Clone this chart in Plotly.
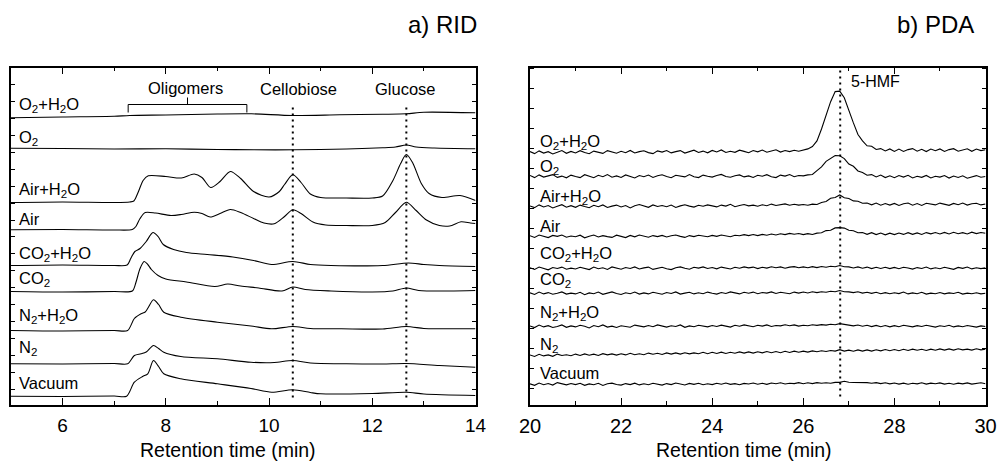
import plotly.graph_objects as go

# ---------------- data ----------------
# a) RID  -- retention time (min) / detector signal (arbitrary units, 0 = bottom of frame)
rid_o2h2o_t = [5, 6, 7, 7.3, 8, 9, 9.66, 10.46, 11.37, 12.2, 12.66, 13.0, 14]
rid_o2h2o_y = [286.7, 287.5, 288.2, 289, 289.5, 290.5, 290.7, 289, 289.7, 290.2, 290.7, 292.3, 291.7]

rid_o2_t = [5, 6, 7, 8, 9, 9.7, 10.5, 11.5, 12.2, 12.45, 12.66, 12.85, 13.2, 14]
rid_o2_y = [256.3, 256, 255.5, 255.7, 255, 254.7, 254.7, 255.5, 256.7, 257.5, 259.5, 257.5, 256.5, 255.7]

rid_airh2o_t = [5, 6, 7, 7.3, 7.38, 7.47, 7.56, 7.66, 8.0, 8.3, 8.55, 8.7, 8.87, 9.05, 9.25, 9.45, 9.7, 10.0,
                10.2, 10.3, 10.46, 10.62, 10.8, 11.0, 11.5, 12.0, 12.2, 12.4, 12.55, 12.66, 12.78, 12.95,
                13.1, 13.35, 13.7, 14]
rid_airh2o_y = [202, 202.5, 202, 202.5, 203.5, 213, 224, 228.7, 228, 226.5, 230.5, 227, 217, 223, 233, 226, 213,
                207.5, 213, 220, 229.7, 222, 210.5, 207, 206.5, 206.5, 208.5, 224, 241, 250, 242, 221, 211,
                207, 209, 204]

rid_air_t = [5, 6, 7, 7.35, 7.42, 7.5, 7.6, 7.8, 8.1, 8.3, 8.55, 8.7, 8.86, 9.05, 9.25, 9.45, 9.7, 9.9, 10.1,
             10.3, 10.46, 10.62, 10.85, 11.1, 11.5, 12.0, 12.25, 12.45, 12.66, 12.85, 13.05, 13.3, 13.5,
             13.72, 13.9, 14]
rid_air_y = [174.7, 175, 174.5, 175, 178, 186, 192, 191.5, 189, 190, 192.3, 191, 187.5, 191, 195, 192, 186,
             181.5, 180.7, 188, 194.7, 191, 182.5, 179.5, 179, 179, 182, 192, 202.3, 194, 184.5, 179, 178.5,
             182.7, 181.5, 181]

rid_co2h2o_t = [5, 6, 7, 7.25, 7.32, 7.4, 7.5, 7.62, 7.75, 7.85, 7.95, 8.15, 8.4, 8.8, 9.3, 9.7, 10.05, 10.46,
                10.8, 11.2, 12.2, 12.7, 13.0, 13.3, 14]
rid_co2h2o_y = [139, 139.5, 139, 139.5, 146, 153, 156, 163, 172, 168, 160, 155, 152, 150, 147.5, 144, 140, 143,
                140, 139, 139, 141.5, 140, 139, 138]

rid_co2_t = [5, 6, 7, 7.35, 7.42, 7.5, 7.58, 7.65, 7.72, 7.85, 8.0, 8.4, 8.95, 9.2, 9.45, 9.8, 10.25, 10.46,
             10.7, 11.2, 12.0, 12.4, 12.66, 12.9, 13.5, 14]
rid_co2_y = [113, 112.5, 113, 113.5, 122, 136, 143, 140, 135, 129, 125.5, 122.5, 118, 120.5, 118.5, 116.5,
             113.5, 117.5, 115, 113.5, 112.5, 113.5, 116.5, 114, 113.5, 114]

rid_n2h2o_t = [5, 6, 7, 7.26, 7.39, 7.52, 7.6, 7.66, 7.76, 7.86, 7.96, 8.29, 9.0, 9.65, 10.05, 10.46, 10.8,
               11.4, 12.2, 12.66, 13.0, 13.3, 14]
rid_n2h2o_y = [74, 73.5, 74, 74, 86, 90.7, 92.5, 97, 104.7, 100, 92.3, 87.3, 82.3, 78.5, 75.7, 78, 76, 75.7,
               75.5, 78, 76, 75.7, 75.7]

rid_n2_t = [5, 6, 7, 7.26, 7.39, 7.52, 7.62, 7.76, 7.86, 7.96, 8.29, 9.0, 9.65, 10.1, 10.46, 10.8, 11.5,
            12.2, 12.66, 13.3, 14]
rid_n2_y = [40.7, 40.5, 41, 40.7, 49, 50.7, 52.5, 59, 56, 52.3, 48, 45.7, 42.3, 42, 44, 41.5, 40.7, 40.5,
            41, 39, 37.3]

rid_vac_t = [5, 6, 7, 7.24, 7.39, 7.55, 7.65, 7.76, 7.86, 7.96, 8.29, 9.0, 9.65, 10.05, 10.46, 10.8, 11.0,
             12.0, 12.66, 13.0, 14]
rid_vac_y = [8.3, 8, 8.5, 8.3, 22.3, 28, 30.7, 44, 38, 30.7, 25.7, 20.7, 16, 12.3, 14.7, 12, 10.7, 11, 12.3,
             10.5, 9]

# b) PDA  -- common time grid (min) and absorbance signal (arbitrary units)
pda_t = [20.0, 20.1, 20.2, 20.3, 20.4, 20.5, 20.6, 20.7, 20.8, 20.9,
         21.0, 21.1, 21.2, 21.3, 21.4, 21.5, 21.6, 21.7, 21.8, 21.9,
         22.0, 22.1, 22.2, 22.3, 22.4, 22.5, 22.6, 22.7, 22.8, 22.9,
         23.0, 23.1, 23.2, 23.3, 23.4, 23.5, 23.6, 23.7, 23.8, 23.9,
         24.0, 24.1, 24.2, 24.3, 24.4, 24.5, 24.6, 24.7, 24.8, 24.9,
         25.0, 25.1, 25.2, 25.3, 25.4, 25.5, 25.6, 25.7, 25.8, 25.9,
         26.0, 26.1, 26.2, 26.3, 26.4, 26.5, 26.6, 26.7, 26.8, 26.9,
         27.0, 27.1, 27.2, 27.3, 27.4, 27.5, 27.6, 27.7, 27.8, 27.9,
         28.0, 28.1, 28.2, 28.3, 28.4, 28.5, 28.6, 28.7, 28.8, 28.9,
         29.0, 29.1, 29.2, 29.3, 29.4, 29.5, 29.6, 29.7, 29.8, 29.9,
         30.0]
pda_o2h2o = [252.9, 250.9, 253.6, 251.4, 252.8, 250.6, 252.2, 254.0, 251.2, 253.1,
             251.5, 253.8, 251.9, 250.8, 253.4, 252.5, 251.1, 253.9, 252.6, 251.3,
             253.2, 251.8, 254.1, 251.5, 252.9, 253.7, 251.9, 250.9, 253.6, 252.4,
             254.0, 251.6, 252.9, 253.9, 251.4, 253.1, 254.3, 252.0, 253.4, 251.7,
             254.1, 252.5, 254.6, 252.0, 253.3, 252.2, 254.3, 253.1, 251.8, 254.0,
             252.7, 254.4, 252.3, 253.5, 254.7, 252.4, 254.0, 252.9, 254.3, 253.2,
             254.1, 255.6, 258.0, 263.6, 275.5, 289.3, 302.8, 312.9, 313.3, 306.7,
             293.5, 281.6, 270.0, 263.6, 258.7, 258.2, 255.0, 255.9, 253.6, 255.6,
             253.1, 255.4, 253.0, 254.9, 255.9, 253.3, 255.2, 252.9, 255.4, 253.8,
             255.6, 253.1, 254.9, 255.8, 253.3, 254.6, 255.7, 253.2, 255.4, 253.9,
             254.8]
pda_o2 = [229.0, 226.9, 229.6, 227.4, 228.6, 229.9, 227.1, 228.4, 226.7, 229.4,
          228.0, 226.9, 229.8, 228.2, 226.8, 229.2, 227.8, 230.0, 227.3, 228.6,
          227.1, 229.6, 228.2, 226.6, 229.0, 227.8, 229.5, 227.0, 228.8, 229.8,
          228.0, 226.8, 229.2, 228.4, 227.6, 230.0, 227.8, 226.9, 229.4, 228.2,
          227.4, 229.0, 230.1, 228.0, 227.2, 228.8, 229.6, 227.6, 228.6, 227.0,
          229.2, 228.2, 229.8, 227.8, 226.9, 229.4, 228.4, 230.0, 227.8, 229.0,
          228.6, 229.6, 230.0, 233.9, 237.6, 243.1, 245.7, 248.9, 248.8, 245.9,
          240.4, 238.2, 233.5, 232.0, 229.3, 229.9, 227.6, 229.5, 226.9, 228.7,
          226.8, 229.0, 227.4, 229.2, 226.6, 228.3, 227.2, 229.1, 226.5, 228.2,
          227.4, 228.9, 226.4, 228.5, 227.0, 228.7, 226.3, 227.9, 228.9, 227.3,
          228.0]
pda_airh2o = [198.6, 196.9, 199.6, 197.5, 199.0, 196.6, 198.2, 199.8, 197.3, 198.8,
              197.2, 199.4, 198.0, 196.8, 199.2, 197.8, 199.6, 197.0, 198.4, 199.4,
              197.5, 199.0, 196.6, 198.8, 200.0, 198.2, 197.2, 199.6, 198.0, 199.0,
              197.8, 199.4, 197.0, 198.6, 199.8, 198.4, 197.4, 199.2, 198.2, 199.6,
              198.6, 197.6, 199.4, 198.4, 200.2, 197.8, 199.0, 200.0, 198.6, 199.4,
              198.2, 199.8, 198.8, 200.4, 199.0, 199.6, 200.6, 199.2, 200.2, 199.4,
              200.0, 199.2, 200.4, 200.0, 202.0, 203.0, 206.2, 207.0, 209.5, 206.8,
              206.0, 203.6, 203.2, 201.2, 201.4, 199.7, 201.5, 199.3, 201.0, 199.4,
              201.1, 199.1, 200.8, 201.5, 199.3, 200.9, 199.0, 201.3, 200.3, 199.6,
              201.4, 200.0, 199.2, 201.1, 199.8, 201.5, 199.4, 200.7, 201.3, 199.6,
              200.5]
pda_air = [168.8, 167.1, 169.5, 167.9, 166.9, 169.1, 168.1, 169.5, 167.3, 168.5,
           167.7, 169.3, 166.7, 168.3, 169.5, 167.5, 168.9, 167.9, 167.1, 169.3,
           168.1, 166.9, 169.1, 167.7, 169.5, 168.3, 167.3, 168.9, 167.9, 169.1,
           167.5, 168.7, 169.5, 168.1, 167.1, 168.9, 167.9, 169.3, 168.3, 167.7,
           169.1, 168.1, 169.5, 168.5, 167.7, 169.3, 168.7, 169.9, 168.9, 170.0,
           168.9, 170.1, 169.3, 170.5, 169.5, 170.7, 169.9, 171.1, 170.3, 171.0,
           169.9, 170.9, 170.0, 171.4, 171.7, 173.9, 174.2, 176.6, 176.9, 176.4,
           174.2, 173.8, 171.7, 172.0, 170.2, 171.8, 169.9, 171.5, 169.7, 171.3,
           169.9, 171.5, 170.1, 171.8, 170.2, 171.6, 170.0, 171.9, 170.6, 172.0,
           170.5, 172.1, 170.6, 172.2, 170.8, 171.9, 170.5, 172.3, 170.9, 172.0,
           171.2]
pda_co2h2o = [136.8, 135.1, 137.5, 135.7, 134.7, 137.0, 136.0, 137.4, 135.3, 136.4,
              135.5, 137.2, 136.2, 134.9, 137.4, 135.8, 136.8, 135.1, 137.6, 136.2,
              135.3, 137.0, 136.0, 137.6, 135.5, 136.6, 137.4, 135.1, 136.4, 137.2,
              135.8, 134.9, 136.8, 137.6, 136.2, 135.3, 137.2, 136.4, 137.6, 136.0,
              137.0, 135.7, 137.4, 136.4, 135.5, 137.2, 136.2, 137.6, 136.6, 137.4,
              135.9, 137.2, 136.4, 137.8, 136.8, 137.6, 136.2, 137.4, 137.9, 136.7,
              137.6, 136.8, 137.9, 136.9, 138.0, 137.3, 138.3, 137.7, 139.0, 137.8,
              137.6, 136.5, 137.6, 136.3, 137.4, 135.9, 137.3, 136.0, 137.3, 135.9,
              137.1, 135.8, 137.3, 136.5, 135.4, 136.9, 136.0, 137.5, 135.6, 136.7,
              135.8, 137.3, 136.3, 135.2, 137.1, 136.1, 137.5, 135.6, 136.7, 135.9,
              136.8]
pda_co2 = [111.7, 110.0, 112.5, 110.6, 111.9, 110.2, 111.2, 112.6, 110.4, 111.4,
           110.6, 112.2, 109.8, 111.6, 110.8, 112.4, 110.2, 111.4, 112.6, 111.0,
           110.0, 111.8, 110.8, 112.4, 110.4, 111.6, 110.6, 112.2, 111.2, 110.2,
           112.0, 111.0, 112.6, 110.4, 111.4, 112.2, 110.6, 111.8, 110.8, 112.4,
           111.2, 110.4, 112.0, 111.0, 112.6, 111.4, 110.6, 112.2, 111.2, 112.4,
           110.8, 112.0, 111.4, 112.6, 111.0, 112.2, 111.6, 110.8, 112.4, 111.4,
           112.5, 111.5, 112.7, 111.9, 112.8, 112.3, 113.2, 112.8, 114.0, 112.8,
           112.6, 111.9, 112.8, 111.4, 112.3, 111.1, 112.2, 110.8, 111.9, 110.8,
           111.8, 110.9, 112.4, 110.6, 111.6, 110.8, 112.2, 110.4, 111.4, 110.8,
           112.0, 110.6, 111.6, 111.0, 112.2, 110.4, 111.4, 110.8, 111.8, 110.6,
           111.2]
pda_n2h2o = [78.5, 76.9, 79.4, 77.6, 78.8, 77.0, 78.0, 79.6, 77.2, 78.6,
             77.6, 79.2, 78.2, 76.6, 79.0, 77.8, 79.6, 77.4, 78.4, 77.0,
             78.8, 78.0, 77.2, 79.4, 78.2, 77.6, 79.0, 77.8, 79.6, 78.4,
             77.4, 78.8, 78.0, 79.6, 77.2, 78.6, 77.8, 79.2, 78.2, 77.6,
             79.0, 78.0, 79.4, 78.4, 77.4, 79.2, 78.2, 79.6, 78.6, 77.8,
             79.2, 78.4, 79.6, 78.0, 79.0, 78.6, 79.8, 78.8, 79.6, 78.4,
             79.3, 78.7, 79.7, 79.1, 79.9, 79.4, 80.2, 79.8, 80.9, 79.9,
             79.6, 78.6, 79.5, 78.2, 79.2, 77.9, 79.1, 77.8, 79.0, 77.6,
             78.9, 77.8, 79.3, 78.4, 77.6, 78.9, 78.0, 79.2, 78.2, 77.4,
             78.8, 78.0, 79.2, 77.6, 78.6, 77.8, 79.0, 78.2, 77.4, 78.6,
             78.0]
pda_n2 = [49.6, 48.0, 50.2, 48.6, 49.6, 48.2, 50.4, 49.0, 49.8, 48.8,
          50.4, 49.0, 50.6, 49.2, 50.4, 49.0, 50.8, 49.6, 50.6, 49.4,
          50.8, 49.6, 51.2, 49.8, 50.8, 49.8, 51.4, 50.2, 51.2, 50.0,
          51.6, 50.4, 51.6, 50.4, 51.8, 50.6, 51.6, 50.8, 52.2, 50.8,
          52.2, 51.0, 52.4, 51.0, 52.2, 51.2, 52.6, 51.4, 52.6, 51.4,
          52.8, 51.6, 53.0, 51.8, 53.0, 51.8, 53.2, 52.0, 53.4, 52.2,
          53.4, 52.4, 53.6, 52.8, 53.8, 53.0, 54.0, 53.4, 54.8, 53.4,
          54.4, 53.2, 54.6, 53.4, 54.6, 53.4, 54.8, 53.6, 55.0, 53.8,
          55.0, 53.8, 55.2, 54.0, 55.4, 54.2, 55.2, 54.0, 55.4, 54.2,
          55.6, 54.4, 55.6, 54.4, 55.8, 54.6, 55.4, 54.4, 55.8, 54.6,
          55.3]
pda_vac = [20.6, 19.2, 21.4, 19.8, 21.0, 19.4, 21.9, 20.6, 19.6, 21.0,
           19.9, 21.2, 19.2, 20.6, 19.8, 21.2, 19.0, 20.8, 21.4, 20.0,
           19.4, 20.9, 19.9, 21.3, 19.6, 20.8, 19.8, 21.2, 20.4, 19.4,
           20.9, 19.9, 21.5, 20.3, 19.5, 21.1, 20.1, 21.3, 19.7, 20.7,
           19.9, 21.3, 20.3, 21.5, 20.1, 20.9, 19.7, 21.1, 20.5, 21.5,
           20.3, 21.3, 20.1, 21.5, 20.7, 21.7, 20.5, 21.3, 20.9, 21.9,
           20.7, 21.7, 20.9, 21.9, 21.2, 21.8, 21.3, 22.1, 22.1, 23.2,
           22.2, 22.0, 22.1, 21.7, 21.9, 21.3, 21.9, 20.9, 21.7, 20.6,
           21.5, 20.4, 21.4, 20.3, 21.2, 20.6, 21.8, 20.4, 21.4, 20.8,
           21.6, 20.4, 21.3, 20.2, 21.4, 20.6, 21.6, 20.4, 21.0, 21.7,
           20.8]

series_labels = ["O<sub>2</sub>+H<sub>2</sub>O", "O<sub>2</sub>", "Air+H<sub>2</sub>O", "Air",
                 "CO<sub>2</sub>+H<sub>2</sub>O", "CO<sub>2</sub>", "N<sub>2</sub>+H<sub>2</sub>O",
                 "N<sub>2</sub>", "Vacuum"]
rid_series = [(rid_o2h2o_t, rid_o2h2o_y), (rid_o2_t, rid_o2_y), (rid_airh2o_t, rid_airh2o_y),
              (rid_air_t, rid_air_y), (rid_co2h2o_t, rid_co2h2o_y), (rid_co2_t, rid_co2_y),
              (rid_n2h2o_t, rid_n2h2o_y), (rid_n2_t, rid_n2_y), (rid_vac_t, rid_vac_y)]
pda_series = [pda_o2h2o, pda_o2, pda_airh2o, pda_air, pda_co2h2o, pda_co2, pda_n2h2o, pda_n2, pda_vac]

# marker positions (min)
cellobiose_t = 10.46
glucose_t = 12.66
hmf_t = 26.81
oligomer_range = [7.27, 9.57]

# ---------------- layout helpers ----------------
W, H = 1000, 462
FONT = "Liberation Sans, Arial, Helvetica, sans-serif"

def px(x):
    return x / W

def py(y):
    return 1 - y / H

# label vertical positions in pixels (cap-centre) for each panel
rid_label_px = [105, 138, 189.5, 219.5, 253.5, 279, 316, 348, 382.5]
pda_label_px = [142, 167, 197, 226, 253.5, 280, 313, 345, 372.5]

fig = go.Figure()

for (t, y) in rid_series:
    fig.add_trace(go.Scatter(x=t, y=y, mode="lines", xaxis="x", yaxis="y",
                             line=dict(color="black", width=1.1, shape="spline", smoothing=0.8),
                             showlegend=False, hoverinfo="skip"))
for y in pda_series:
    fig.add_trace(go.Scatter(x=pda_t, y=y, mode="lines", xaxis="x2", yaxis="y2",
                             line=dict(color="black", width=1.1),
                             showlegend=False, hoverinfo="skip"))

dot = "2px,4px"
shapes = [
    dict(type="line", xref="x", yref="y", x0=cellobiose_t, x1=cellobiose_t, y0=7, y1=301,
         line=dict(color="black", width=2, dash=dot)),
    dict(type="line", xref="x", yref="y", x0=glucose_t, x1=glucose_t, y0=7, y1=301,
         line=dict(color="black", width=2, dash=dot)),
    dict(type="line", xref="x2", yref="y2", x0=hmf_t, x1=hmf_t, y0=8, y1=337,
         line=dict(color="black", width=2, dash=dot)),
    # oligomers bracket
    dict(type="line", xref="x", yref="y", x0=oligomer_range[0], x1=oligomer_range[1], y0=300, y1=300,
         line=dict(color="black", width=1)),
    dict(type="line", xref="x", yref="y", x0=oligomer_range[0], x1=oligomer_range[0], y0=300, y1=292,
         line=dict(color="black", width=1)),
    dict(type="line", xref="x", yref="y", x0=oligomer_range[1], x1=oligomer_range[1], y0=300, y1=292,
         line=dict(color="black", width=1)),
    dict(type="line", xref="x", yref="y", x0=sum(oligomer_range) / 2, x1=sum(oligomer_range) / 2,
         y0=300, y1=307, line=dict(color="black", width=1)),
]

ann = []
def text(x, y, s, size, xanchor="center", yanchor="middle"):
    ann.append(dict(x=px(x), y=py(y), xref="paper", yref="paper", text=s, showarrow=False,
                    xanchor=xanchor, yanchor=yanchor, font=dict(family=FONT, size=size, color="black")))

for lab, yy in zip(series_labels, rid_label_px):
    text(17, yy, lab, 16.5, xanchor="left")
for lab, yy in zip(series_labels, pda_label_px):
    text(538, yy, lab, 16.5, xanchor="left")

text(185, 88, "Oligomers", 16.5)
text(298, 89, "Cellobiose", 16.5)
text(405, 89, "Glucose", 16.5)
text(875, 81, "5-HMF", 16)
text(442, 24, "a) RID", 24)
text(935, 24, "b) PDA", 24)
text(228, 450, "Retention time (min)", 19.5)
text(744, 450, "Retention time (min)", 19.5)

axis_common = dict(showline=True, linecolor="black", linewidth=1.5, mirror="ticks", ticks="inside",
                   showgrid=False, zeroline=False, tickcolor="black", automargin=False)

y_dom = [py(404.5), py(67.5)]
fig.update_layout(
    width=W, height=H, margin=dict(l=0, r=0, t=0, b=0, pad=0), autosize=False,
    paper_bgcolor="white", plot_bgcolor="white",
    font=dict(family=FONT, color="black"),
    xaxis=dict(domain=[px(11), px(475.5)], range=[5, 14], dtick=2, tick0=0, ticklen=7, tickwidth=1.2,
               minor=dict(ticks="inside", ticklen=4, dtick=1, tick0=0, tickcolor="black", tickwidth=1.2),
               tickfont=dict(size=19), ticklabelstandoff=3, anchor="y", **axis_common),
    yaxis=dict(domain=y_dom, range=[0, 337], tick0=15.5, dtick=16.9, ticklen=4, tickwidth=1,
               showticklabels=False, anchor="x", **axis_common),
    xaxis2=dict(domain=[px(530), px(985.5)], range=[20, 30], dtick=2, tick0=0, ticklen=7, tickwidth=1.2,
                minor=dict(ticks="inside", ticklen=4, dtick=1, tick0=0, tickcolor="black", tickwidth=1.2),
                tickfont=dict(size=20), ticklabelstandoff=3, anchor="y2", **axis_common),
    yaxis2=dict(domain=y_dom, range=[0, 337], tick0=15.7, dtick=20, ticklen=4, tickwidth=1,
                showticklabels=False, anchor="x2", **axis_common),
    shapes=shapes, annotations=ann,
)

fig.write_html("out.html")
